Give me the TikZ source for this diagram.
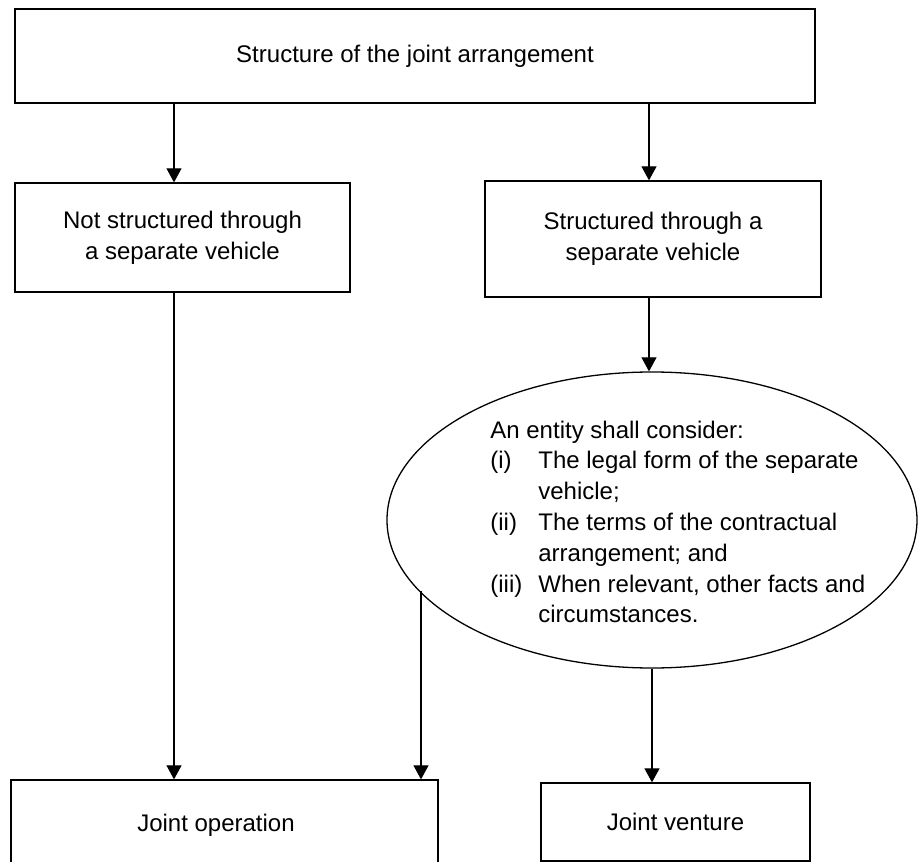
\documentclass[tikz,border=0pt]{standalone}
\usepackage{fontspec}
\setmainfont{Liberation Sans}
\usetikzlibrary{arrows.meta,shapes.geometric}
\begin{document}
\begin{tikzpicture}[x=0.5pt, y=-0.5pt,
		every node/.style={font=\fontsize{12}{15.4}\selectfont},
		box/.style={draw, line width=0.65pt, align=center, inner sep=0pt},
		arr/.style={-{Triangle[length=7pt,width=7.5pt]}, line width=0.6pt}]
		\useasboundingbox (0,0) rectangle (918,862);
		\clip (0,0) rectangle (918,862);
		\coordinate (colL) at (174,0);
		\coordinate (colM) at (421,0);
		\coordinate (colR) at (649,0);
		
		\node [box, minimum width=400pt, minimum height=47pt] (top) at (415,56) {Structure of the joint arrangement};
		\node [box, minimum width=167.5pt, minimum height=54.5pt] (notsv) at (182.5,237.5) {Not structured through\\a separate vehicle};
		\node [box, minimum width=168pt, minimum height=58pt] (sv) at (653,239) {Structured through a\\separate vehicle};
		\node [draw, ellipse, line width=0.65pt, inner sep=0pt, minimum width=265pt, minimum height=148pt] (consider) at (652,520) {};
		\node [anchor=west, align=left, inner sep=0pt] (considertext) at (490,522) {An entity shall consider:\\
			\makebox[24pt][l]{(i)}The legal form of the separate\\
			\hspace*{24pt}vehicle;\\
			\makebox[24pt][l]{(ii)}The terms of the contractual\\
			\hspace*{24pt}arrangement; and\\
			\makebox[24pt][l]{(iii)}When relevant, other facts and\\
			\hspace*{24pt}circumstances.};
		\node [box, minimum width=213.5pt, minimum height=45pt, label={[xshift=-4.25pt]center:Joint operation}] (jointop) at (224.5,825) {};
		\node [box, minimum width=134.5pt, minimum height=39pt] (jointven) at (675.5,822) {Joint venture};
		
		\draw [arr] (top.south -| colL) -- (notsv.north -| colL);
		\draw [arr] (top.south -| colR) -- (sv.north -| colR);
		\draw [arr] (notsv.south -| colL) -- (jointop.north -| colL);
		\draw [arr] (sv.south -| colR) -- (consider.north -| colR);
		\draw [arr] (consider.197.4 -| colM) -- (jointop.north -| colM); %left edge of the ellipse
		\draw [arr] (consider.south) -- (consider.south |- jointven.north);
	\end{tikzpicture}
\end{document}
